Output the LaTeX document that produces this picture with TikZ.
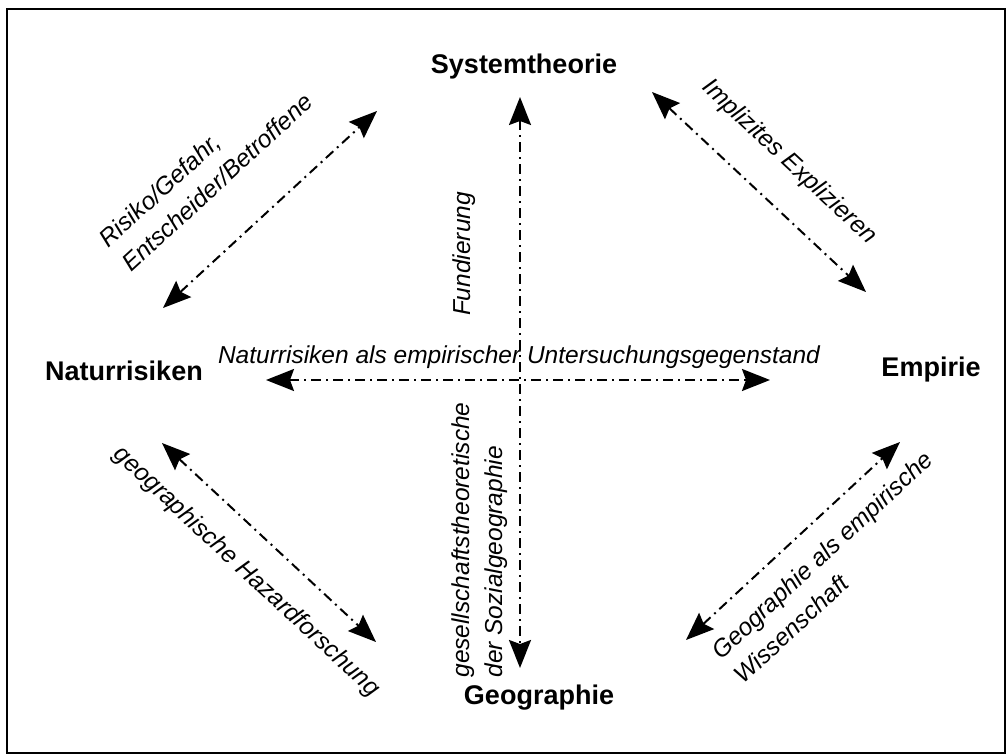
\documentclass[tikz,border=0pt]{standalone}
\usepackage{fontspec}
\setmainfont{Liberation Sans}
\usetikzlibrary{arrows.meta}
\begin{document}
\begin{tikzpicture}[x=1pt,y=-1pt,
  pole/.style={font=\fontsize{27}{32}\selectfont\bfseries, inner sep=0pt},
  relation/.style={font=\fontsize{24.5}{33}\selectfont\itshape, inner sep=0pt, align=left},
  link/.style={line width=2pt, dash pattern=on 10pt off 5pt on 2pt off 5pt,
    {Stealth[length=28pt,width=22pt,inset=4pt]}-{Stealth[length=28pt,width=22pt,inset=4pt]}}
]
\useasboundingbox (0,0) rectangle (1007,755);
\draw[line width=2.5pt] (7,9) rectangle (1005,753);

% the four poles
\node[pole] (sys) at (524,67) {Systemtheorie};
\node[pole] (nat) at (124,371) {Naturrisiken};
\node[pole] (emp) at (931,370) {Empirie};
\node[pole] (geo) at (539,698) {Geographie};

% arrow end points
\coordinate (vT) at (520,97);
\coordinate (vB) at (520,668);
\coordinate (hL) at (266,380);
\coordinate (hR) at (770,380);
\coordinate (tlU) at (377,111);
\coordinate (tlL) at (163,308);
\coordinate (trU) at (652,92);
\coordinate (trL) at (866,292);
\coordinate (blU) at (162,443);
\coordinate (blL) at (376,642);
\coordinate (brU) at (900,442);
\coordinate (brL) at (686,640);

% relations
\draw[link] (vT) -- (vB);
\draw[link] (hL) -- (hR);
\draw[link] (tlL) -- (tlU);
\draw[link] (trU) -- (trL);
\draw[link] (blU) -- (blL);
\draw[link] (brL) -- (brU);

% relation labels
\node[relation, anchor=base] (lh) at (519,363) {Naturrisiken als empirischer Untersuchungsgegenstand};
\node[relation, rotate=90] (lf) at (464,254) {Fundierung};
\node[relation, rotate=90] (lg) at (480,540) {gesellschaftstheoretische\\der Sozialgeographie};
\node[relation, rotate=42.5] (lr) at (206,170) {Risiko/Gefahr,\\Entscheider/Betroffene};
\node[relation, rotate=-43] (li) at (789,162) {Implizites Explizieren};
\node[relation, rotate=-43] (lhz) at (246,572) {geographische Hazardforschung};
\node[relation, rotate=43] (lw) at (833,567) {Geographie als empirische\\Wissenschaft};
\end{tikzpicture}
\end{document}
